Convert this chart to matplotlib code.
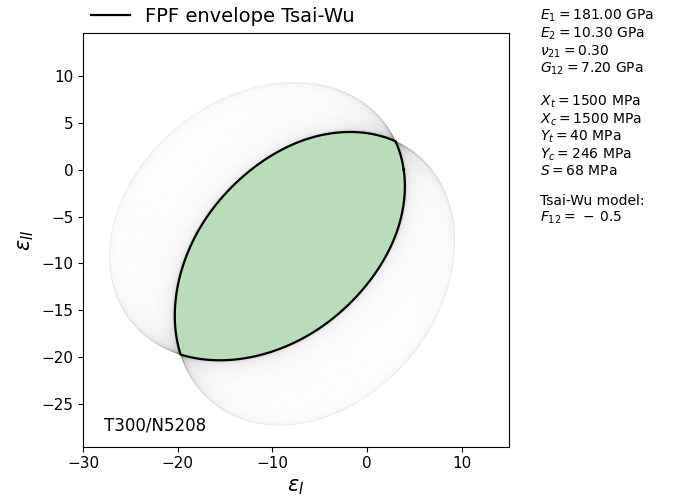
import numpy as np
import matplotlib
matplotlib.use("Agg")
import matplotlib.pyplot as plt
from matplotlib.ticker import MultipleLocator

# material T300/N5208 (values as printed on the chart)
material_name = "T300/N5208"
E1 = 181.0      # GPa
E2 = 10.3       # GPa
nu21 = 0.30
G12 = 7.2       # GPa
Xt = 1500.0     # MPa
Xc = 1500.0
Yt = 40.0
Yc = 246.0
S = 68.0
F12_star = -0.5

# ply angles swept for the gray envelopes (deg)
ply_angles = np.arange(0, 180, 1)
# directions in principal strain space
phi = np.linspace(0, 2 * np.pi, 721)


def tsai_wu_radius(theta_deg, phi):
    # reduced stiffness in MPa
    nu_major = nu21
    nu_minor = nu_major * E2 / E1
    d = 1 - nu_major * nu_minor
    Q11 = E1 * 1000 / d
    Q22 = E2 * 1000 / d
    Q12 = nu_major * E2 * 1000 / d
    Q66 = G12 * 1000
    F1 = 1 / Xt - 1 / Xc
    F2 = 1 / Yt - 1 / Yc
    F11 = 1 / (Xt * Xc)
    F22 = 1 / (Yt * Yc)
    F66 = 1 / S**2
    F12 = F12_star * np.sqrt(F11 * F22)

    t = np.radians(theta_deg)
    c, s = np.cos(t), np.sin(t)
    ex, ey = np.cos(phi) * 1e-3, np.sin(phi) * 1e-3  # strain in per mille
    e1 = ex * c**2 + ey * s**2
    e2 = ex * s**2 + ey * c**2
    g12 = 2 * (ey - ex) * s * c
    s1 = Q11 * e1 + Q12 * e2
    s2 = Q12 * e1 + Q22 * e2
    s6 = Q66 * g12
    a = F11 * s1**2 + F22 * s2**2 + F66 * s6**2 + 2 * F12 * s1 * s2
    b = F1 * s1 + F2 * s2
    return (-b + np.sqrt(b**2 + 4 * a)) / (2 * a)


fig = plt.figure(figsize=(6.78, 5.0), dpi=100)
ax = fig.add_axes([83 / 678, 53.3 / 500, 426 / 678, 413.4 / 500])

radii = []
for th in ply_angles:
    r = tsai_wu_radius(th, phi)
    radii.append(r)
    ax.plot(r * np.cos(phi), r * np.sin(phi), color="gray", lw=0.25, alpha=0.07)

r_min = np.min(np.array(radii), axis=0)
ex_env = r_min * np.cos(phi)
ey_env = r_min * np.sin(phi)
ax.fill(ex_env, ey_env, color="green", alpha=0.27, lw=0)
ax.plot(ex_env, ey_env, color="black", lw=1.6, label="FPF envelope Tsai-Wu")

ax.set_xlim(-30, 15)
ax.set_ylim(-29.5, 14.5)
ax.xaxis.set_major_locator(MultipleLocator(10))
ax.yaxis.set_major_locator(MultipleLocator(5))
ax.set_xlabel(r"$\epsilon_I$", fontsize=15)
ax.set_ylabel(r"$\epsilon_{II}$", fontsize=15)
ax.tick_params(labelsize=11)
ax.text(0.05, 0.04, material_name, transform=ax.transAxes, fontsize=12)

ax.legend(loc="lower left", bbox_to_anchor=(0, 1.0), frameon=False,
          fontsize=14, handlelength=2.0, borderaxespad=0)

info = "\n".join([
    rf"$E_1 = {E1:.2f}$ GPa",
    rf"$E_2 = {E2:.2f}$ GPa",
    rf"$\nu_{{21}} = {nu21:.2f}$",
    rf"$G_{{12}} = {G12:.2f}$ GPa",
    "",
    rf"$X_t = {Xt:.0f}$ MPa",
    rf"$X_c = {Xc:.0f}$ MPa",
    rf"$Y_t = {Yt:.0f}$ MPa",
    rf"$Y_c = {Yc:.0f}$ MPa",
    rf"$S = {S:.0f}$ MPa",
    "",
    "Tsai-Wu model:",
    r"$F_{12} = \,-\,0.5$",
])
fig.text(540 / 678, 1 - 8 / 500, info, fontsize=10, va="top", ha="left",
         linespacing=1.1)

fig.savefig("out.png", dpi=100)
